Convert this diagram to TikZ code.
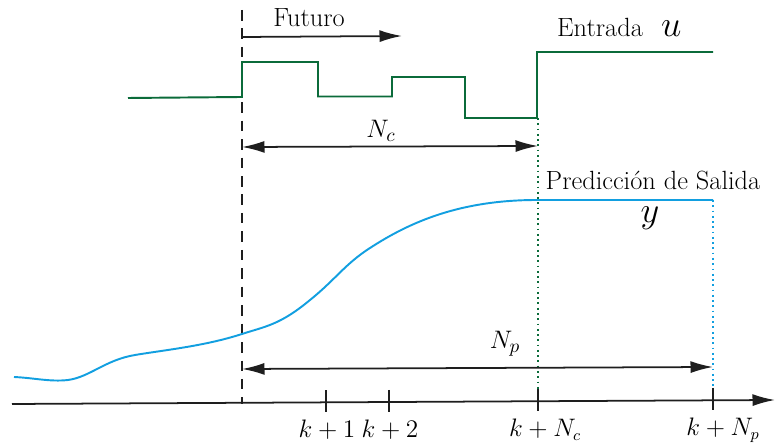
\documentclass[tikz,border=0pt]{standalone}
\usepackage{amsmath,amssymb}
\usepackage{xcolor}
\usepackage{tikz}
\usetikzlibrary{arrows.meta,positioning}
\definecolor{inputgreen}{HTML}{0B6B3A}
\definecolor{outputblue}{HTML}{129FE0}
\definecolor{axisdark}{HTML}{1E1E1E}
\tikzset{
  textlabel/.style={font=\fontsize{15}{17}\selectfont, inner sep=0pt, text=black},
  biglabel/.style={font=\fontsize{21}{23}\selectfont, inner sep=0pt, text=black},
  ticklabel/.style={font=\fontsize{13.5}{15}\selectfont, inner sep=1pt},
  signalin/.style={draw=inputgreen, line width=1.1pt},
  signalout/.style={draw=outputblue, line width=1.1pt},
  horizon/.style={{Latex[length=4.5mm,width=2.4mm]}-{Latex[length=4.5mm,width=2.4mm]}, line width=1pt, draw=axisdark},
  edge/.style={-{Latex[length=4.5mm,width=2.4mm]}, line width=1pt, draw=axisdark},
  nowline/.style={dashed, dash pattern=on 6pt off 4.5pt, line width=0.9pt, draw=axisdark},
  dottedline/.style={dotted, line width=1pt},
  tick/.style={line width=1pt, draw=axisdark}
}

\begin{document}
\begin{tikzpicture}[x=0.02cm, y=-0.02cm]
  \useasboundingbox (0,0) rectangle (775,448);
  % time axis
  \coordinate (a0) at (12,404);
  \coordinate (a1) at (775,400);
  \draw[edge] (a0) -- (a1);
  % present instant k
  \coordinate (k0) at (242,10);
  \coordinate (k1) at (242,404);
  \draw[nowline] (k0) -- (k1);
  % future arrow
  \coordinate (f0) at (242,37);
  \coordinate (f1) at (402,36);
  \draw[edge] (f0) -- (f1);
  \node[textlabel] (futuro) at (309,18) {Futuro};
  % input signal u
  \draw[signalin] (128,98) -- (242,97) -- (242,62) -- (318,62) -- (318,96.5)
    -- (392,96.5) -- (392,77) -- (465,77) -- (465,118) -- (537,118)
    -- (537,52) -- (713,52);
  \node[textlabel] (entrada) at (600,27) {Entrada};
  \node[biglabel, right=10pt of entrada.east, anchor=west, yshift=-1pt] (ulab) {$u$};
  % predicted output y
  \draw[signalout] (14,377) .. controls (35,378) and (50,382) .. (68,380)
    .. controls (90,377) and (105,360) .. (135,355)
    .. controls (165,350) and (205,346) .. (242,334)
    .. controls (265,326.5) and (280,325) .. (310,300)
    .. controls (335,280) and (345,264) .. (370,248)
    .. controls (410,222) and (460,200) .. (537,200) -- (713,200);
  \node[textlabel] (salida) at (653,181) {Predicci\'on de Salida};
  \node[biglabel] (ylab) at (650,218) {$y$};
  % horizon markers
  \coordinate (nc0) at (538,118);
  \coordinate (nc1) at (538,402);
  \draw[dottedline, draw=inputgreen] (nc0) -- (nc1);
  \coordinate (np0) at (713,200);
  \coordinate (np1) at (713,401);
  \draw[dottedline, draw=outputblue] (np0) -- (np1);
  % control horizon
  \coordinate (c0) at (242,147);
  \coordinate (c1) at (538,146);
  \draw[horizon] (c0) -- (c1);
  \node[textlabel] (nclab) at (381,131) {$N_c$};
  % prediction horizon
  \coordinate (p0) at (242,369);
  \coordinate (p1) at (713,367);
  \draw[horizon] (p0) -- (p1);
  \node[textlabel] (nplab) at (505,344) {$N_p$};
  % ticks
  \foreach \tx/\tl/\ty/\off [count=\i] in {326/k+1/403.5/1, 389/k+2/403/1, 538/k+N_c/402/7, 713/k+N_p/401/10} {
    \draw[tick] (\tx,\ty-13) -- (\tx,\ty+9);
    \node[ticklabel] (t\i) at (\tx+\off,430) {$\tl$};
  }
\end{tikzpicture}
\end{document}
